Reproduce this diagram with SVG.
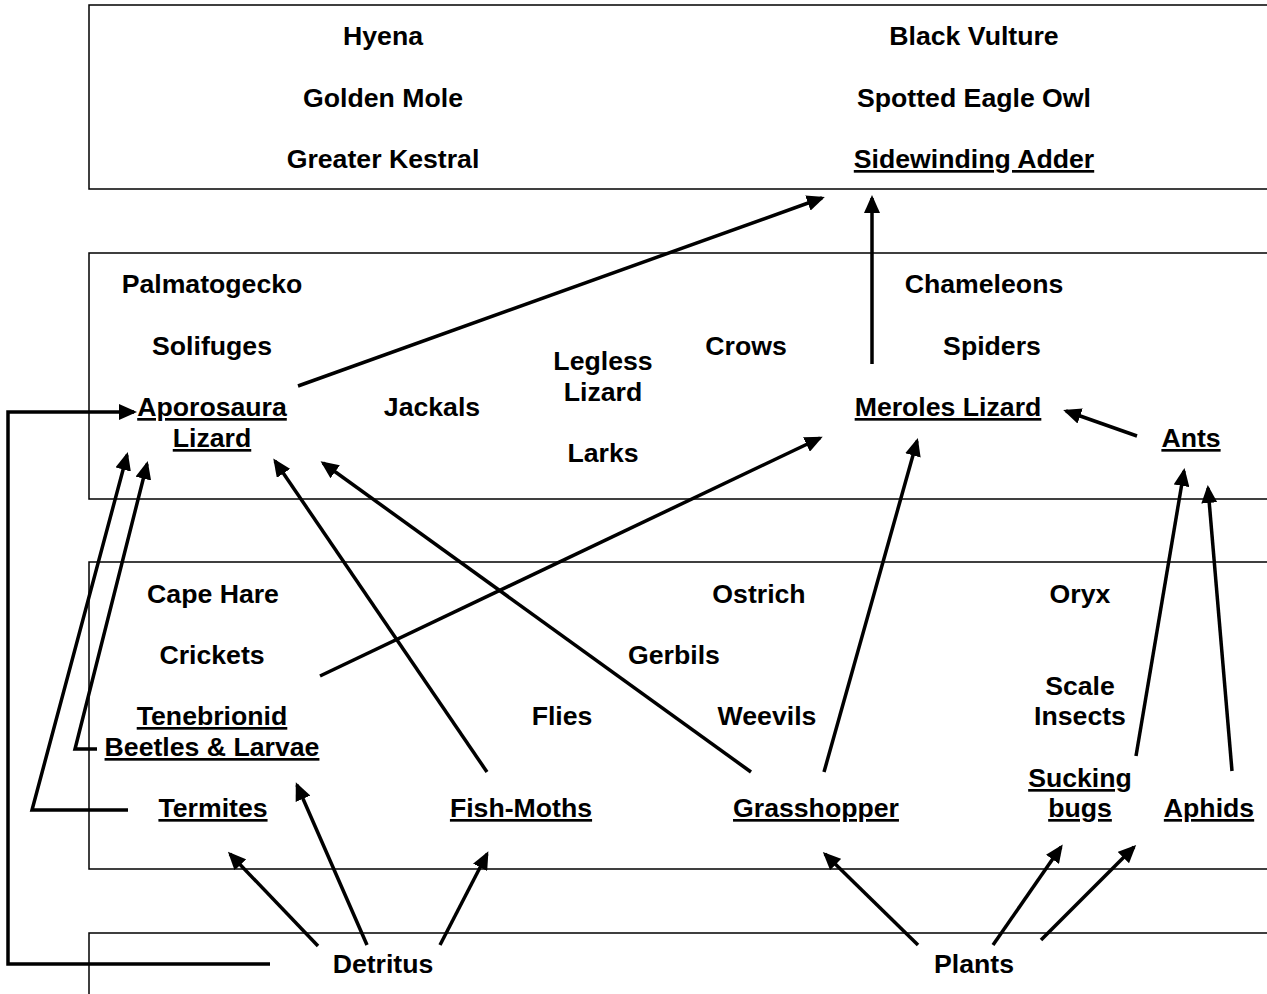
<svg xmlns="http://www.w3.org/2000/svg" width="1267" height="994" viewBox="0 0 1267 994">
<defs>
<style>
.band{fill:none;stroke:#000;stroke-width:1.5}
text{font-family:"Liberation Sans",Arial,sans-serif;font-weight:bold;font-size:26.67px;fill:#000;text-anchor:middle}
.u{text-decoration:underline}
.c{fill:none;stroke:#000;stroke-width:3.5}
</style>
<marker id="ah" markerUnits="userSpaceOnUse" markerWidth="18" markerHeight="16" viewBox="0 0 18 16" refX="15" refY="8" orient="auto">
<path d="M0,0 L18,8 L0,16 z" fill="#000"/>
</marker>
</defs>
<rect width="1267" height="994" fill="#fff"/>
<g id="bands">
<rect class="band" x="89" y="5" width="1200" height="184"/>
<rect class="band" x="89" y="253" width="1200" height="246"/>
<rect class="band" x="89" y="562" width="1200" height="307"/>
<rect class="band" x="89" y="933" width="1200" height="100"/>
</g>
<g id="connectors">
<line class="c" x1="298" y1="386" x2="822" y2="198" marker-end="url(#ah)"/>
<line class="c" x1="872" y1="364" x2="872" y2="198" marker-end="url(#ah)"/>
<line class="c" x1="1137" y1="436" x2="1066" y2="411" marker-end="url(#ah)"/>
<line class="c" x1="320" y1="676" x2="820" y2="438" marker-end="url(#ah)"/>
<line class="c" x1="487" y1="772" x2="275" y2="461" marker-end="url(#ah)"/>
<line class="c" x1="751" y1="772" x2="323" y2="463" marker-end="url(#ah)"/>
<line class="c" x1="824" y1="772" x2="917" y2="441" marker-end="url(#ah)"/>
<line class="c" x1="1136" y1="756" x2="1184" y2="471" marker-end="url(#ah)"/>
<line class="c" x1="1232" y1="771" x2="1208" y2="488" marker-end="url(#ah)"/>
<polyline class="c" points="128,810 32,810 127,455" marker-end="url(#ah)"/>
<polyline class="c" points="97,749 75,749 147,464" marker-end="url(#ah)"/>
<polyline class="c" points="270,964 8,964 8,412 134,412" marker-end="url(#ah)"/>
<line class="c" x1="318" y1="946" x2="230" y2="854" marker-end="url(#ah)"/>
<line class="c" x1="367" y1="945" x2="297" y2="785" marker-end="url(#ah)"/>
<line class="c" x1="440" y1="945" x2="487" y2="854" marker-end="url(#ah)"/>
<line class="c" x1="918" y1="945" x2="825" y2="854" marker-end="url(#ah)"/>
<line class="c" x1="993" y1="945" x2="1061" y2="847" marker-end="url(#ah)"/>
<line class="c" x1="1041" y1="940" x2="1134" y2="847" marker-end="url(#ah)"/>
</g>
<g id="n-hyena"><text x="383" y="45">Hyena</text></g>
<g id="n-golden-mole"><text x="383" y="107">Golden Mole</text></g>
<g id="n-greater-kestral"><text x="383" y="168">Greater Kestral</text></g>
<g id="n-black-vulture"><text x="974" y="45">Black Vulture</text></g>
<g id="n-spotted-eagle-owl"><text x="974" y="107">Spotted Eagle Owl</text></g>
<g id="n-sidewinding-adder"><text class="u" x="974" y="168">Sidewinding Adder</text></g>
<g id="n-palmatogecko"><text x="212" y="293">Palmatogecko</text></g>
<g id="n-solifuges"><text x="212" y="355">Solifuges</text></g>
<g id="n-aporosaura"><text class="u" x="212" y="416">Aporosaura</text><text class="u" x="212" y="447">Lizard</text></g>
<g id="n-jackals"><text x="432" y="416">Jackals</text></g>
<g id="n-legless-lizard"><text x="603" y="370">Legless</text><text x="603" y="401">Lizard</text></g>
<g id="n-larks"><text x="603" y="462">Larks</text></g>
<g id="n-crows"><text x="746" y="355">Crows</text></g>
<g id="n-chameleons"><text x="984" y="293">Chameleons</text></g>
<g id="n-spiders"><text x="992" y="355">Spiders</text></g>
<g id="n-meroles"><text class="u" x="948" y="416">Meroles Lizard</text></g>
<g id="n-ants"><text class="u" x="1191" y="447">Ants</text></g>
<g id="n-cape-hare"><text x="213" y="603">Cape Hare</text></g>
<g id="n-crickets"><text x="212" y="664">Crickets</text></g>
<g id="n-tenebrionid"><text class="u" x="212" y="725">Tenebrionid</text><text class="u" x="212" y="756">Beetles &amp; Larvae</text></g>
<g id="n-flies"><text x="562" y="725">Flies</text></g>
<g id="n-gerbils"><text x="674" y="664">Gerbils</text></g>
<g id="n-weevils"><text x="767" y="725">Weevils</text></g>
<g id="n-ostrich"><text x="759" y="603">Ostrich</text></g>
<g id="n-oryx"><text x="1080" y="603">Oryx</text></g>
<g id="n-scale-insects"><text x="1080" y="695">Scale</text><text x="1080" y="725">Insects</text></g>
<g id="n-sucking-bugs"><text class="u" x="1080" y="787">Sucking</text><text class="u" x="1080" y="817">bugs</text></g>
<g id="n-aphids"><text class="u" x="1209" y="817">Aphids</text></g>
<g id="n-termites"><text class="u" x="213" y="817">Termites</text></g>
<g id="n-fish-moths"><text class="u" x="521" y="817">Fish-Moths</text></g>
<g id="n-grasshopper"><text class="u" x="816" y="817">Grasshopper</text></g>
<g id="n-detritus"><text x="383" y="973">Detritus</text></g>
<g id="n-plants"><text x="974" y="973">Plants</text></g>
</svg>
